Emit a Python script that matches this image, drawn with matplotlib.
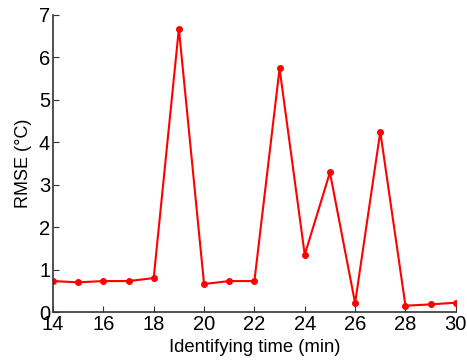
import matplotlib
matplotlib.use("Agg")
import matplotlib.pyplot as plt

plt.rcParams["font.family"] = ["Liberation Sans", "DejaVu Sans"]

time_min = [14, 15, 16, 17, 18, 19, 20, 21, 22, 23, 24, 25, 26, 27, 28, 29, 30]
rmse = [0.73, 0.70, 0.73, 0.73, 0.80, 6.68, 0.66, 0.73, 0.73, 5.74, 1.35,
        3.29, 0.21, 4.25, 0.15, 0.18, 0.22]

fig = plt.figure(figsize=(4.67, 3.62), dpi=100)
ax = fig.add_axes([0.1135, 0.138, 0.8625, 0.8206])

ax.plot(time_min, rmse, color="red", lw=1.5, marker="o", ms=4)

ax.set_xlim(14, 30)
ax.set_ylim(0, 7)
ax.set_xticks(range(14, 31, 2))
ax.set_yticks(range(0, 8))
ax.spines["top"].set_visible(False)
ax.spines["right"].set_visible(False)
for s in ("left", "bottom"):
    ax.spines[s].set_color("#333333")
    ax.spines[s].set_linewidth(1.2)
ax.tick_params(direction="in", length=4, labelsize=14.5, pad=2, colors="#333333",
               labelcolor="black")
ax.set_xlabel("Identifying time (min)", fontsize=13.3, labelpad=4)
ax.set_ylabel("RMSE (°C)", fontsize=13, labelpad=5)

fig.savefig("out.png", dpi=100)
